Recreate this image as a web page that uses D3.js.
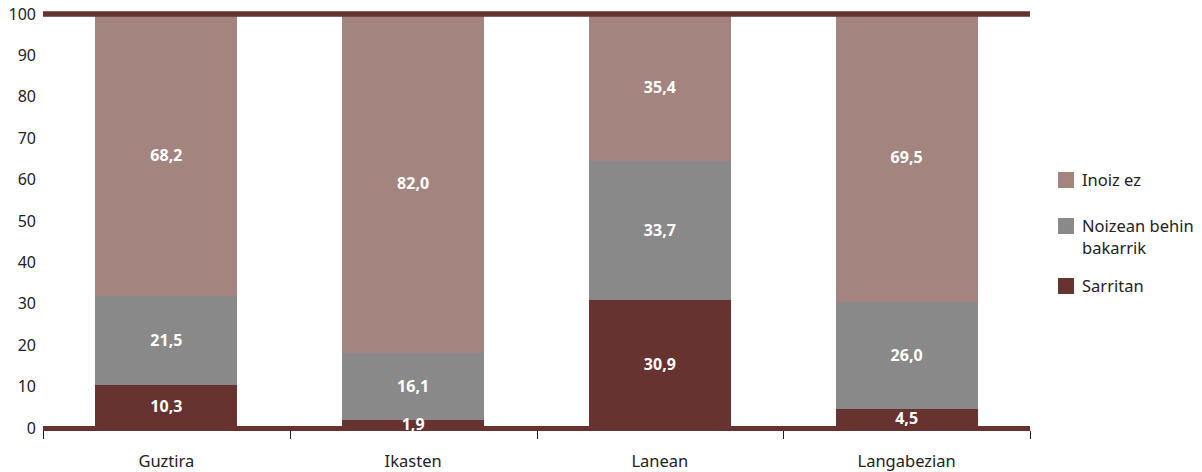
<!DOCTYPE html>
<html><head><meta charset="utf-8">
<script src="https://cdn.jsdelivr.net/npm/d3@7"></script>
<style>body{margin:0;background:#fff}svg{display:block}text{font-family:"Noto Sans",sans-serif}</style>
</head><body><svg id="c" width="1202" height="472"></svg>
<script>
const categories = ["Guztira", "Ikasten", "Lanean", "Langabezian"];
const seriesNames = ["Sarritan", "Noizean behin bakarrik", "Inoiz ez"];
const sarritan = [10.3, 1.9, 30.9, 4.5];
const noizean = [21.5, 16.1, 33.7, 26.0];
const inoizEz = [68.2, 82.0, 35.4, 69.5];
const yTicks = [0, 10, 20, 30, 40, 50, 60, 70, 80, 90, 100];
const colors = ["#663330", "#898989", "#a4847f"];

const svg = d3.select("#c");
const pLeft = 43, pRight = 1030, pTop = 14, pBottom = 428;
const x = d3.scaleBand().domain(categories).range([pLeft, pRight]).paddingInner(0.425).paddingOuter(0.2125);
const y = d3.scaleLinear().domain([0, 100]).range([pBottom, pTop]);

const rows = categories.map((c, i) => ({cat: c, s0: sarritan[i], s1: noizean[i], s2: inoizEz[i]}));
const stack = d3.stack().keys(["s0", "s1", "s2"])(rows);

const g = svg.append("g").attr("shape-rendering", "crispEdges");
stack.forEach((layer, li) => {
  g.selectAll(null).data(layer).enter().append("rect")
    .attr("x", d => x(d.data.cat))
    .attr("width", x.bandwidth())
    .attr("y", d => y(d[1]))
    .attr("height", d => y(d[0]) - y(d[1]))
    .attr("fill", colors[li]);
});

// frame lines
svg.append("line").attr("x1", pLeft).attr("x2", pRight).attr("y1", y(100)).attr("y2", y(100))
  .attr("stroke", "#663330").attr("stroke-width", 5.5);
svg.append("line").attr("x1", pLeft).attr("x2", pRight).attr("y1", y(0)+0.5).attr("y2", y(0)+0.5)
  .attr("stroke", "#663330").attr("stroke-width", 5);

// value labels
const lg0 = svg.append("g");
stack.forEach((layer) => {
  lg0.selectAll(null).data(layer).enter().append("text")
    .attr("x", d => x(d.data.cat) + x.bandwidth() / 2)
    .attr("y", d => (y(d[0]) + y(d[1])) / 2)
    .attr("dy", "0.35em")
    .attr("text-anchor", "middle")
    .attr("fill", "#fff")
    .attr("font-weight", "bold")
    .attr("font-size", 16)
    .text(d => (d[1] - d[0]).toFixed(1).replace(".", ","));
});

// y axis labels
svg.append("g").selectAll("text").data(yTicks).enter().append("text")
  .attr("x", 36).attr("y", d => y(d)).attr("dy", "0.35em")
  .attr("text-anchor", "end").attr("font-size", 16).attr("fill", "#222")
  .text(d => d);

// x axis ticks
const bounds = categories.map(c => x(c) - x.step() * x.paddingInner() / 2).concat([pRight]);
bounds[0] = pLeft;
svg.append("g").selectAll("line").data(bounds).enter().append("line")
  .attr("x1", d => Math.round(d) + 0.5).attr("x2", d => Math.round(d) + 0.5)
  .attr("y1", 431).attr("y2", 439).attr("stroke", "#222").attr("stroke-width", 1);

// category labels
svg.append("g").selectAll("text").data(categories).enter().append("text")
  .attr("x", d => x(d) + x.bandwidth() / 2).attr("y", 461).attr("dy", "0.35em")
  .attr("text-anchor", "middle").attr("font-size", 16.5).attr("fill", "#222")
  .text(d => d);

// legend
const legend = [
  {name: ["Inoiz ez"], color: colors[2], y: 172},
  {name: ["Noizean behin", "bakarrik"], color: colors[1], y: 218},
  {name: ["Sarritan"], color: colors[0], y: 278}
];
const lg = svg.append("g");
legend.forEach(l => {
  lg.append("rect").attr("x", 1058).attr("y", l.y).attr("width", 16).attr("height", 16).attr("fill", l.color);
  const t = lg.append("text").attr("x", 1082).attr("y", l.y + 8)
    .attr("font-size", 16.5).attr("fill", "#222");
  l.name.forEach((s, i) => t.append("tspan").attr("x", 1082).attr("dy", i === 0 ? "0.35em" : 22).text(s));
});
</script></body></html>
